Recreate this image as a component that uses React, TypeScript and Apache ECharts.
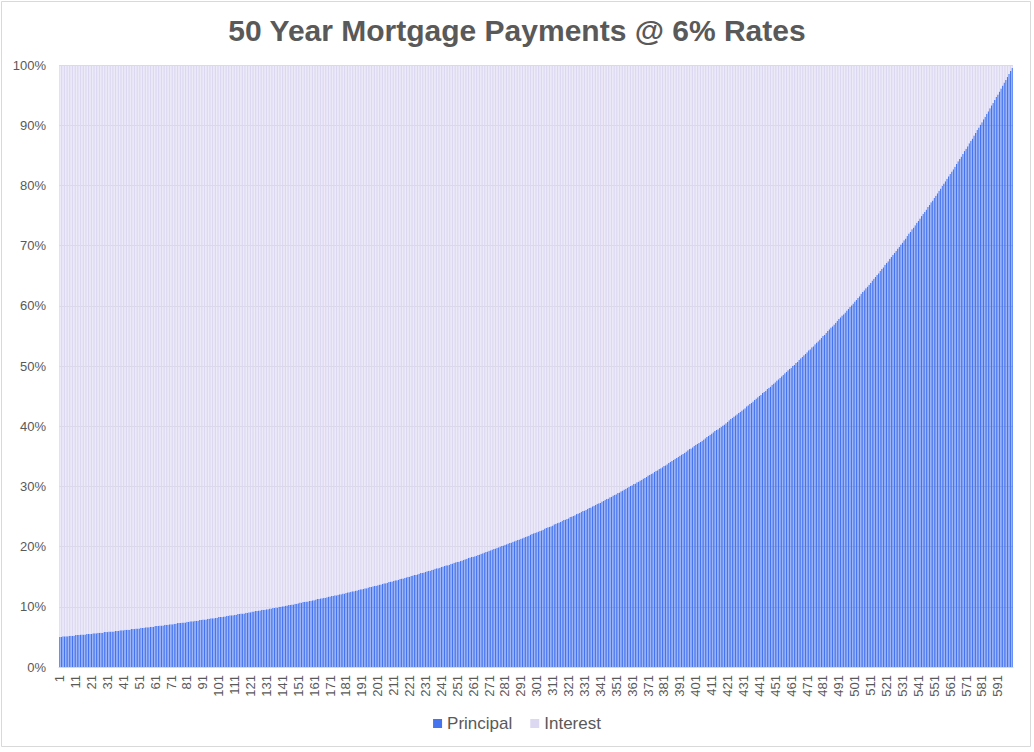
import * as echarts from 'echarts';
import { useEffect, useRef } from 'react';

// principal share of each monthly payment, in % (months 1..600)
const principalMonths001to100 = [
  5.0, 5.0, 5.1, 5.1, 5.1, 5.1, 5.2, 5.2, 5.2, 5.2,
  5.3, 5.3, 5.3, 5.4, 5.4, 5.4, 5.4, 5.5, 5.5, 5.5,
  5.5, 5.6, 5.6, 5.6, 5.7, 5.7, 5.7, 5.7, 5.8, 5.8,
  5.8, 5.9, 5.9, 5.9, 5.9, 6.0, 6.0, 6.0, 6.1, 6.1,
  6.1, 6.2, 6.2, 6.2, 6.2, 6.3, 6.3, 6.3, 6.4, 6.4,
  6.4, 6.5, 6.5, 6.5, 6.6, 6.6, 6.6, 6.7, 6.7, 6.7,
  6.8, 6.8, 6.8, 6.9, 6.9, 6.9, 7.0, 7.0, 7.0, 7.1,
  7.1, 7.1, 7.2, 7.2, 7.3, 7.3, 7.3, 7.4, 7.4, 7.4,
  7.5, 7.5, 7.6, 7.6, 7.6, 7.7, 7.7, 7.7, 7.8, 7.8,
  7.9, 7.9, 7.9, 8.0, 8.0, 8.1, 8.1, 8.1, 8.2, 8.2,
];
const principalMonths101to200 = [
  8.3, 8.3, 8.3, 8.4, 8.4, 8.5, 8.5, 8.6, 8.6, 8.6,
  8.7, 8.7, 8.8, 8.8, 8.9, 8.9, 8.9, 9.0, 9.0, 9.1,
  9.1, 9.2, 9.2, 9.3, 9.3, 9.4, 9.4, 9.5, 9.5, 9.5,
  9.6, 9.6, 9.7, 9.7, 9.8, 9.8, 9.9, 9.9, 10.0, 10.0,
  10.1, 10.1, 10.2, 10.2, 10.3, 10.3, 10.4, 10.4, 10.5, 10.5,
  10.6, 10.7, 10.7, 10.8, 10.8, 10.9, 10.9, 11.0, 11.0, 11.1,
  11.1, 11.2, 11.3, 11.3, 11.4, 11.4, 11.5, 11.5, 11.6, 11.7,
  11.7, 11.8, 11.8, 11.9, 11.9, 12.0, 12.1, 12.1, 12.2, 12.2,
  12.3, 12.4, 12.4, 12.5, 12.6, 12.6, 12.7, 12.7, 12.8, 12.9,
  12.9, 13.0, 13.1, 13.1, 13.2, 13.3, 13.3, 13.4, 13.5, 13.5,
];
const principalMonths201to300 = [
  13.6, 13.7, 13.7, 13.8, 13.9, 13.9, 14.0, 14.1, 14.2, 14.2,
  14.3, 14.4, 14.4, 14.5, 14.6, 14.7, 14.7, 14.8, 14.9, 15.0,
  15.0, 15.1, 15.2, 15.3, 15.3, 15.4, 15.5, 15.6, 15.6, 15.7,
  15.8, 15.9, 16.0, 16.0, 16.1, 16.2, 16.3, 16.4, 16.4, 16.5,
  16.6, 16.7, 16.8, 16.9, 16.9, 17.0, 17.1, 17.2, 17.3, 17.4,
  17.5, 17.5, 17.6, 17.7, 17.8, 17.9, 18.0, 18.1, 18.2, 18.3,
  18.3, 18.4, 18.5, 18.6, 18.7, 18.8, 18.9, 19.0, 19.1, 19.2,
  19.3, 19.4, 19.5, 19.6, 19.7, 19.8, 19.9, 20.0, 20.1, 20.2,
  20.3, 20.4, 20.5, 20.6, 20.7, 20.8, 20.9, 21.0, 21.1, 21.2,
  21.3, 21.4, 21.5, 21.6, 21.7, 21.8, 22.0, 22.1, 22.2, 22.3,
];
const principalMonths301to400 = [
  22.4, 22.5, 22.6, 22.7, 22.8, 23.0, 23.1, 23.2, 23.3, 23.4,
  23.5, 23.7, 23.8, 23.9, 24.0, 24.1, 24.3, 24.4, 24.5, 24.6,
  24.7, 24.9, 25.0, 25.1, 25.2, 25.4, 25.5, 25.6, 25.8, 25.9,
  26.0, 26.1, 26.3, 26.4, 26.5, 26.7, 26.8, 26.9, 27.1, 27.2,
  27.3, 27.5, 27.6, 27.8, 27.9, 28.0, 28.2, 28.3, 28.5, 28.6,
  28.7, 28.9, 29.0, 29.2, 29.3, 29.5, 29.6, 29.8, 29.9, 30.1,
  30.2, 30.4, 30.5, 30.7, 30.8, 31.0, 31.1, 31.3, 31.4, 31.6,
  31.8, 31.9, 32.1, 32.2, 32.4, 32.6, 32.7, 32.9, 33.0, 33.2,
  33.4, 33.5, 33.7, 33.9, 34.1, 34.2, 34.4, 34.6, 34.7, 34.9,
  35.1, 35.3, 35.4, 35.6, 35.8, 36.0, 36.2, 36.3, 36.5, 36.7,
];
const principalMonths401to500 = [
  36.9, 37.1, 37.2, 37.4, 37.6, 37.8, 38.0, 38.2, 38.4, 38.6,
  38.8, 39.0, 39.2, 39.4, 39.5, 39.7, 39.9, 40.1, 40.3, 40.5,
  40.7, 41.0, 41.2, 41.4, 41.6, 41.8, 42.0, 42.2, 42.4, 42.6,
  42.8, 43.0, 43.3, 43.5, 43.7, 43.9, 44.1, 44.4, 44.6, 44.8,
  45.0, 45.2, 45.5, 45.7, 45.9, 46.2, 46.4, 46.6, 46.9, 47.1,
  47.3, 47.6, 47.8, 48.0, 48.3, 48.5, 48.8, 49.0, 49.3, 49.5,
  49.7, 50.0, 50.2, 50.5, 50.7, 51.0, 51.3, 51.5, 51.8, 52.0,
  52.3, 52.6, 52.8, 53.1, 53.3, 53.6, 53.9, 54.1, 54.4, 54.7,
  55.0, 55.2, 55.5, 55.8, 56.1, 56.4, 56.6, 56.9, 57.2, 57.5,
  57.8, 58.1, 58.4, 58.6, 58.9, 59.2, 59.5, 59.8, 60.1, 60.4,
];
const principalMonths501to600 = [
  60.7, 61.0, 61.3, 61.6, 62.0, 62.3, 62.6, 62.9, 63.2, 63.5,
  63.8, 64.2, 64.5, 64.8, 65.1, 65.4, 65.8, 66.1, 66.4, 66.8,
  67.1, 67.4, 67.8, 68.1, 68.5, 68.8, 69.1, 69.5, 69.8, 70.2,
  70.5, 70.9, 71.2, 71.6, 72.0, 72.3, 72.7, 73.0, 73.4, 73.8,
  74.1, 74.5, 74.9, 75.3, 75.6, 76.0, 76.4, 76.8, 77.2, 77.5,
  77.9, 78.3, 78.7, 79.1, 79.5, 79.9, 80.3, 80.7, 81.1, 81.5,
  81.9, 82.3, 82.7, 83.1, 83.6, 84.0, 84.4, 84.8, 85.2, 85.7,
  86.1, 86.5, 87.0, 87.4, 87.8, 88.3, 88.7, 89.2, 89.6, 90.1,
  90.5, 91.0, 91.4, 91.9, 92.3, 92.8, 93.3, 93.7, 94.2, 94.7,
  95.1, 95.6, 96.1, 96.6, 97.1, 97.5, 98.0, 98.5, 99.0, 99.5,
];

const TITLE = '50 Year Mortgage Payments @ 6% Rates';
const SERIES_NAMES = ['Principal', 'Interest'];
const COLORS = ['#4674ef', '#dcd8f2'];
const TEXT = '#595959';
const LINE = '#d9d9d9';
const FONT = '"Liberation Sans", Arial, sans-serif';

const principal = [
  ...principalMonths001to100,
  ...principalMonths101to200,
  ...principalMonths201to300,
  ...principalMonths301to400,
  ...principalMonths401to500,
  ...principalMonths501to600,
];
// each bar is a full payment: interest is the rest of it
const interest = principal.map(p => Math.round((100 - p) * 10) / 10);
const months = principal.map((_, i) => String(i + 1));

export default function App() {
  const chartRef = useRef<HTMLDivElement>(null);

  useEffect(() => {
    document.body.style.margin = '0';
    if (!chartRef.current) return;
    const chart = echarts.init(chartRef.current, undefined, { renderer: 'svg' });

    chart.setOption({
      animation: false,
      backgroundColor: '#fff',
      textStyle: { fontFamily: FONT },
      title: {
        text: TITLE,
        left: 'center',
        top: 10,
        textStyle: { color: TEXT, fontSize: 30, fontWeight: 'bold', fontFamily: FONT },
      },
      legend: {
        data: SERIES_NAMES,
        top: 710,
        left: 'center',
        icon: 'rect',
        itemWidth: 9,
        itemHeight: 9,
        itemGap: 18,
        textStyle: { color: TEXT, fontSize: 17, fontFamily: FONT },
      },
      graphic: [
        {
          type: 'rect',
          shape: { x: 1.5, y: 1.5, width: 1029, height: 745 },
          style: { fill: 'none', stroke: LINE, lineWidth: 1 },
          silent: true,
        },
      ],
      grid: { left: 59, right: 21, top: 65, bottom: 85 },
      xAxis: {
        type: 'category',
        data: months,
        axisTick: { show: false },
        axisLine: { lineStyle: { color: LINE } },
        axisLabel: {
          interval: 9,
          rotate: 90,
          margin: 8,
          color: TEXT,
          fontSize: 13,
          fontFamily: FONT,
        },
      },
      yAxis: {
        type: 'value',
        min: 0,
        max: 100,
        interval: 10,
        axisLine: { show: false },
        axisTick: { show: false },
        axisLabel: { formatter: '{value}%', color: TEXT, fontSize: 13, margin: 13, fontFamily: FONT },
        splitLine: { lineStyle: { color: LINE } },
      },
      series: [
        {
          name: SERIES_NAMES[0],
          type: 'bar',
          stack: 'payment',
          data: principal,
          barCategoryGap: '25%',
          itemStyle: { color: COLORS[0] },
        },
        {
          name: SERIES_NAMES[1],
          type: 'bar',
          stack: 'payment',
          data: interest,
          barCategoryGap: '25%',
          itemStyle: { color: COLORS[1] },
        },
      ],
    });

    return () => chart.dispose();
  }, []);

  return <div ref={chartRef} style={{ width: 1034, height: 752 }} />;
}
